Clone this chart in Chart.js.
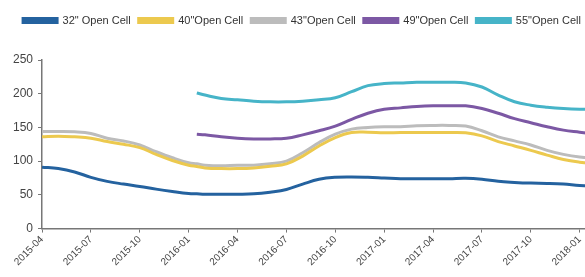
<!DOCTYPE html>
<html>
<head>
<meta charset="utf-8">
<script src="https://cdn.jsdelivr.net/npm/chart.js@4.4.1/dist/chart.umd.min.js"></script>
<style>
  html, body { margin: 0; padding: 0; background: #fff; overflow: hidden; }
  #wrap { width: 600px; height: 277px; }
</style>
</head>
<body>
<div id="wrap"><canvas id="panelChart"></canvas></div>
<script>
// month offsets from 2015-04 (9.5 = mid Jan 2016, where 49" and 55" start)
const months = [0, 1, 2, 3, 4, 5, 6, 7, 8, 9, 9.5, 10, 11, 12, 13, 14, 15, 16, 17, 18, 19, 20, 21,
    22, 23, 24, 25, 26, 27, 28, 29, 30, 31, 32, 33, 34];
const tickLabels = ["2015-04", "2015-07", "2015-10", "2016-01", "2016-04", "2016-07",
    "2016-10", "2017-01", "2017-04", "2017-07", "2017-10", "2018-01"];

const seriesNames = ['32" Open Cell', '40"Open Cell', '43"Open Cell', '49"Open Cell', '55"Open Cell'];
const colors = ["#24629f", "#ecc94e", "#bcbcbc", "#7c58a4", "#46b4c8"];

const open32 = [91, 89, 84, 76, 70, 66, 62.5, 58.5, 55, 52, 51.5, 51, 51, 51, 51.5, 54, 58, 66, 73, 76,
    76.5, 76, 75, 74, 74, 74, 74, 74.5, 73, 70, 68.5, 67.5, 67, 66, 64, 63];
const open40 = [136, 137, 136, 134, 129, 125, 120, 110, 101, 94, 92, 90, 89, 89, 90, 92.5, 96, 107.5, 122.5,
    135, 142.5, 143, 142, 142.5, 142.5, 142.5, 142.5, 142, 137.5, 129, 122.5, 116, 109, 102.5, 98.5, 96];
const open43 = [144, 144, 143.5, 141, 134, 130, 124, 114, 105, 97.5, 96, 94, 93, 94, 94, 96, 100, 112.5, 127.5,
    140, 147.5, 150, 151, 151, 152.5, 153, 153, 152, 145, 136, 130, 124, 116, 110, 106, 104];
const open49 = [null, null, null, null, null, null, null, null, null, null, 140, 139, 136, 134, 133, 133, 134,
    139, 145, 152, 162, 171, 177, 179, 181, 182, 182, 182, 178, 171, 163, 157, 151, 146, 143, 140];
const open55 = [null, null, null, null, null, null, null, null, null, null, 201, 198, 193, 191, 189, 188, 188,
    189, 191, 194, 203, 212, 215, 216, 217, 217, 217, 216, 210, 198, 188, 183, 180, 178, 177, 177];

const values = [open32, open40, open43, open49, open55];
const font = "'Liberation Sans', Arial, sans-serif";

// leave room between legend and plot
const legendGap = {
    id: "legendGap",
    beforeInit(chart) {
        const fit = chart.legend.fit;
        chart.legend.fit = function () {
            fit.call(this);
            this.height += 24;
        };
    }
};

const ctx = document.getElementById("panelChart").getContext("2d");
new Chart(ctx, {
    type: "line",
    data: {
        datasets: values.map((vals, i) => ({
            label: seriesNames[i],
            data: vals.map((v, j) => ({ x: months[j], y: v })),
            borderColor: colors[i],
            backgroundColor: colors[i],
            borderWidth: 3,
            pointRadius: 0,
            tension: 0.4
        }))
    },
    plugins: [legendGap],
    options: {
        responsive: true,
        maintainAspectRatio: false,
        animation: false,
        layout: { padding: { left: 8, right: 4, top: 7, bottom: 8 } },
        plugins: {
            legend: {
                position: "top",
                labels: {
                    boxWidth: 34,
                    boxHeight: 4,
                    padding: 8,
                    color: "#333",
                    font: { family: font, size: 11 }
                }
            },
            tooltip: { enabled: false }
        },
        scales: {
            x: {
                type: "linear",
                min: 0,
                max: 34,
                grid: { drawOnChartArea: false, drawTicks: true, tickLength: 4, color: "#777" },
                border: { color: "#777", width: 1.5 },
                ticks: {
                    stepSize: 3,
                    includeBounds: false,
                    autoSkip: false,
                    minRotation: 45,
                    maxRotation: 45,
                    padding: 1,
                    color: "#444",
                    font: { family: font, size: 10 },
                    callback: v => tickLabels[v / 3] || ""
                }
            },
            y: {
                min: 0,
                max: 250,
                grid: { drawOnChartArea: false, drawTicks: true, tickLength: 4, color: "#777" },
                border: { color: "#777", width: 1.5 },
                ticks: {
                    stepSize: 50,
                    padding: 5,
                    color: "#444",
                    font: { family: font, size: 12 }
                }
            }
        }
    }
});
</script>
</body>
</html>
